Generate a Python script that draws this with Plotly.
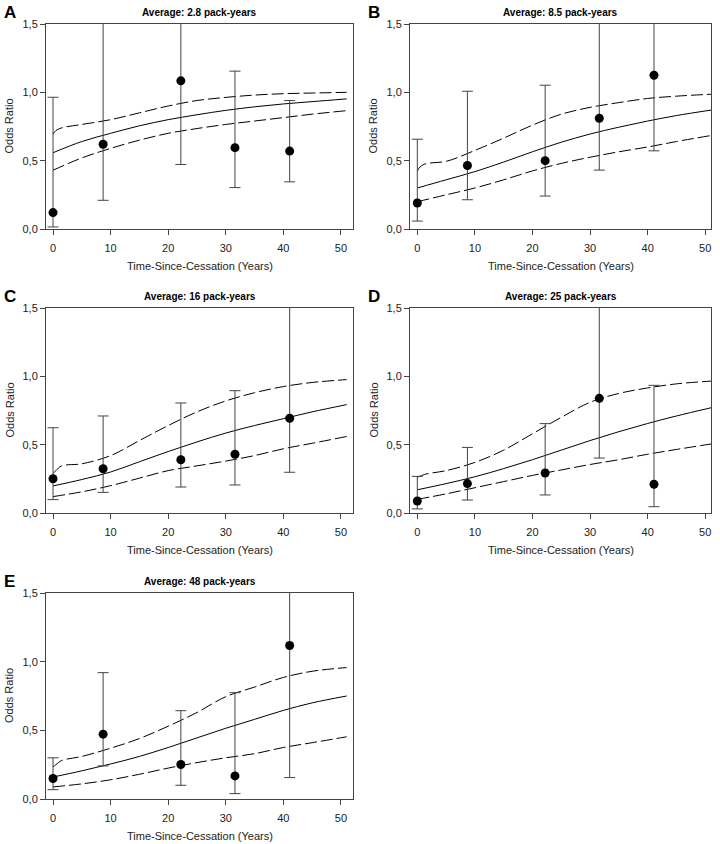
import plotly.graph_objects as go

# ---------------- data ----------------
panel_letters = ["A", "B", "C", "D", "E"]
panel_titles = ["Average: 2.8 pack-years", "Average: 8.5 pack-years",
                "Average: 16 pack-years", "Average: 25 pack-years",
                "Average: 48 pack-years"]

x_points = [0, 8.7, 22.2, 31.6, 41.1]

or_A = [0.12, 0.62, 1.084, 0.595, 0.57]
lo_A = [0.015, 0.21, 0.472, 0.303, 0.345]
hi_A = [0.964, 2.2, 2.6, 1.155, 0.94]

or_B = [0.19, 0.465, 0.50, 0.81, 1.125]
lo_B = [0.058, 0.214, 0.241, 0.431, 0.572]
hi_B = [0.657, 1.008, 1.052, 2.0, 2.6]

or_C = [0.251, 0.324, 0.39, 0.43, 0.693]
lo_C = [0.098, 0.151, 0.19, 0.205, 0.298]
hi_C = [0.624, 0.71, 0.805, 0.895, 2.0]

or_D = [0.088, 0.215, 0.293, 0.839, 0.21]
lo_D = [0.03, 0.095, 0.132, 0.402, 0.046]
hi_D = [0.268, 0.48, 0.654, 2.0, 0.934]

or_E = [0.149, 0.472, 0.251, 0.168, 1.118]
lo_E = [0.068, 0.241, 0.10, 0.039, 0.156]
hi_E = [0.30, 0.92, 0.643, 0.774, 2.0]

fit_x = [0, 5, 10, 15, 20, 25, 30, 35, 40, 45, 51]
upper_x = [0, 0.5, 1.5, 5, 10, 15, 20, 25, 30, 35, 40, 45, 51]

fit_A = [0.558, 0.64, 0.70, 0.755, 0.80, 0.836, 0.868, 0.894, 0.915, 0.932, 0.952]
upper_A = [0.695, 0.72, 0.74, 0.765, 0.80, 0.85, 0.90, 0.94, 0.963, 0.98, 0.99, 0.995, 1.0]
lower_A = [0.43, 0.52, 0.59, 0.65, 0.70, 0.735, 0.765, 0.79, 0.815, 0.84, 0.866]

fit_B = [0.30, 0.36, 0.42, 0.49, 0.565, 0.635, 0.695, 0.745, 0.79, 0.83, 0.87]
upper_B = [0.424, 0.455, 0.478, 0.495, 0.575, 0.665, 0.76, 0.84, 0.89, 0.925, 0.955, 0.972, 0.986]
lower_B = [0.20, 0.25, 0.30, 0.36, 0.425, 0.48, 0.525, 0.565, 0.60, 0.64, 0.684]

fit_C = [0.198, 0.245, 0.30, 0.375, 0.45, 0.52, 0.585, 0.64, 0.69, 0.74, 0.793]
upper_C = [0.29, 0.31, 0.345, 0.36, 0.42, 0.53, 0.64, 0.74, 0.82, 0.88, 0.925, 0.955, 0.976]
lower_C = [0.12, 0.155, 0.20, 0.255, 0.31, 0.345, 0.38, 0.42, 0.47, 0.51, 0.56]

fit_D = [0.17, 0.215, 0.265, 0.325, 0.39, 0.46, 0.53, 0.595, 0.655, 0.71, 0.77]
upper_D = [0.262, 0.27, 0.285, 0.31, 0.37, 0.46, 0.58, 0.70, 0.81, 0.875, 0.915, 0.945, 0.965]
lower_D = [0.10, 0.14, 0.185, 0.23, 0.275, 0.315, 0.355, 0.39, 0.43, 0.465, 0.505]

fit_E = [0.16, 0.205, 0.255, 0.31, 0.375, 0.445, 0.515, 0.58, 0.645, 0.70, 0.75]
upper_E = [0.234, 0.25, 0.28, 0.31, 0.37, 0.44, 0.53, 0.63, 0.745, 0.815, 0.885, 0.93, 0.957]
lower_E = [0.088, 0.11, 0.14, 0.18, 0.225, 0.265, 0.30, 0.33, 0.375, 0.41, 0.453]

x_ticks = [0, 10, 20, 30, 40, 50]
y_ticks = [0.0, 0.5, 1.0, 1.5]

panels = [
    (or_A, lo_A, hi_A, fit_A, upper_A, lower_A),
    (or_B, lo_B, hi_B, fit_B, upper_B, lower_B),
    (or_C, lo_C, hi_C, fit_C, upper_C, lower_C),
    (or_D, lo_D, hi_D, fit_D, upper_D, lower_D),
    (or_E, lo_E, hi_E, fit_E, upper_E, lower_E),
]

# ---------------- layout geometry (page pixels) ----------------
W, H = 720, 844
boxes = [  # left, right, top, bottom
    (46, 353, 24, 229),
    (410, 711, 24, 229),
    (46, 353, 308, 513),
    (410, 711, 308, 513),
    (46, 353, 593, 799),
]
x_ranges = [(-1.22, 52.1), (-1.27, 51.0), (-1.22, 52.1), (-1.27, 51.0), (-1.22, 52.1)]


def px(v):
    return v / W


def py(v):
    return 1 - v / H


FONT = "Liberation Sans, Arial, sans-serif"
fig = go.Figure()
annotations = []
layout = dict(
    template="none",
    width=W, height=H, margin=dict(l=0, r=0, t=0, b=0, pad=0, autoexpand=False),
    paper_bgcolor="white", plot_bgcolor="white", showlegend=False,
    separators=",.", font=dict(family=FONT, size=11, color="#222"),
)

DASH = "12px,4px"
for i, (vals, lo, hi, fit, up, low) in enumerate(panels):
    n = i + 1
    xa = "x" if n == 1 else f"x{n}"
    ya = "y" if n == 1 else f"y{n}"
    L, R, T, B = boxes[i]

    fig.add_trace(go.Scatter(x=fit_x, y=fit, mode="lines",
                             line=dict(color="black", width=1, shape="spline"),
                             xaxis=xa, yaxis=ya, hoverinfo="skip"))
    fig.add_trace(go.Scatter(x=upper_x, y=up, mode="lines",
                             line=dict(color="black", width=1, dash=DASH, shape="spline"),
                             xaxis=xa, yaxis=ya, hoverinfo="skip"))
    fig.add_trace(go.Scatter(x=fit_x, y=low, mode="lines",
                             line=dict(color="black", width=1, dash=DASH, shape="spline"),
                             xaxis=xa, yaxis=ya, hoverinfo="skip"))
    fig.add_trace(go.Scatter(
        x=x_points, y=vals, mode="markers",
        marker=dict(color="black", size=9),
        error_y=dict(type="data", symmetric=False,
                     array=[h - v for h, v in zip(hi, vals)],
                     arrayminus=[v - l for v, l in zip(vals, lo)],
                     color="#444", thickness=1, width=5.5),
        xaxis=xa, yaxis=ya))

    axkey_x = "xaxis" if n == 1 else f"xaxis{n}"
    axkey_y = "yaxis" if n == 1 else f"yaxis{n}"
    layout[axkey_x] = dict(
        domain=[px(L), px(R)], anchor=ya, range=list(x_ranges[i]), automargin=False,
        tickvals=x_ticks, ticks="outside", ticklen=5, tickcolor="#444",
        ticklabelstandoff=4,
        showline=True, mirror=True, linecolor="#444", linewidth=1,
        showgrid=False, zeroline=False, tickfont=dict(size=11, family=FONT, color="#222"),
    )
    layout[axkey_y] = dict(
        domain=[py(B), py(T)], anchor=xa, range=[0, 1.5], automargin=False,
        tickvals=y_ticks, tickformat=".1f", ticks="outside", ticklen=5, tickcolor="#444",
        showline=True, mirror=True, linecolor="#444", linewidth=1,
        showgrid=False, zeroline=False, tickfont=dict(size=11, family=FONT, color="#222"),
    )

    cx = (L + R) / 2
    annotations.append(dict(text=f"<b>{panel_titles[i]}</b>", x=px(cx), y=py(T - 12),
                            xref="paper", yref="paper", showarrow=False,
                            font=dict(size=10, family=FONT, color="black"),
                            xanchor="center", yanchor="middle"))
    annotations.append(dict(text=f"<b>{panel_letters[i]}</b>", x=px(L - 44), y=py(T - 12),
                            xref="paper", yref="paper", showarrow=False,
                            font=dict(size=17, family=FONT, color="black"),
                            xanchor="left", yanchor="middle"))
    annotations.append(dict(text="Time-Since-Cessation (Years)", x=px(cx), y=py(B + 37),
                            xref="paper", yref="paper", showarrow=False,
                            font=dict(size=11, family=FONT, color="#222"),
                            xanchor="center", yanchor="middle"))
    annotations.append(dict(text="Odds Ratio", x=px(L - 37), y=py((T + B) / 2),
                            xref="paper", yref="paper", showarrow=False, textangle=-90,
                            font=dict(size=11, family=FONT, color="#222"),
                            xanchor="center", yanchor="middle"))

layout["annotations"] = annotations
fig.update_layout(**layout)
# remove the browser's default 8px body margin so the figure starts at the page corner
fig.write_html("out.html", config={"displayModeBar": False},
               post_script="document.body.style.margin='0';document.body.style.overflow='hidden';")
